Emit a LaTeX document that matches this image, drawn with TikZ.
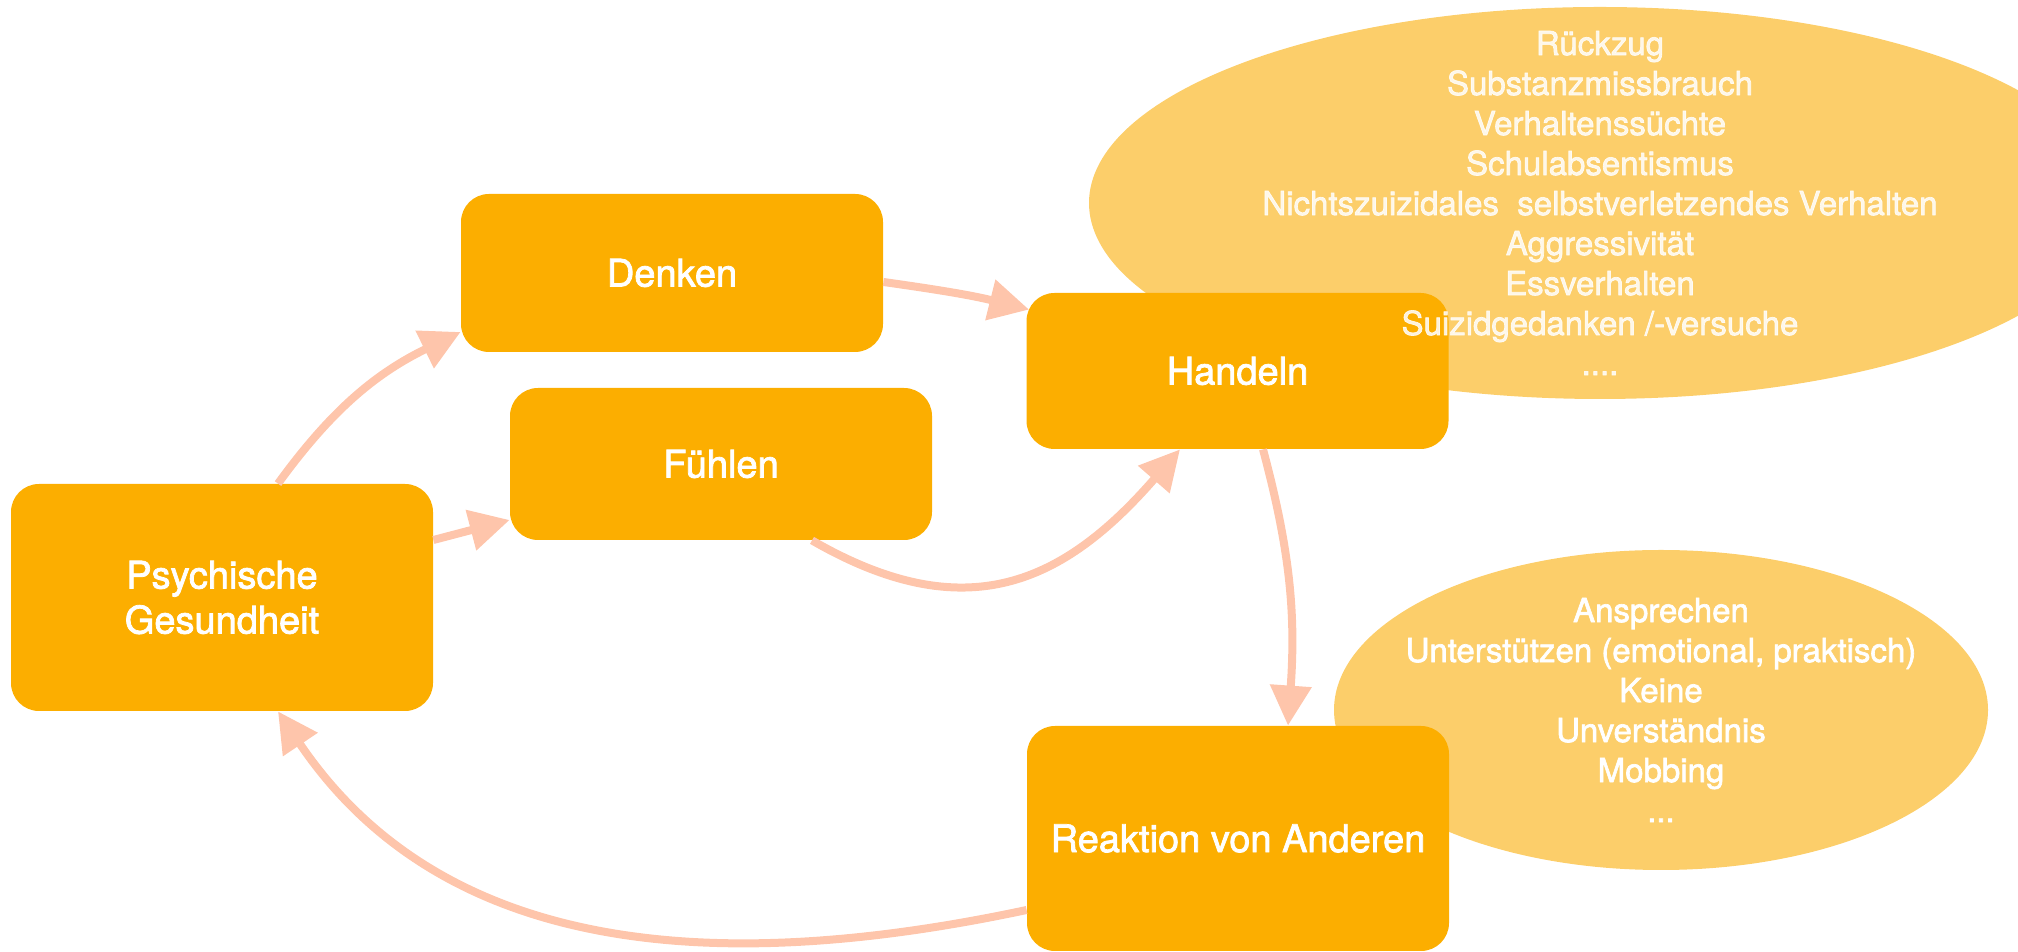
\documentclass[tikz,border=0pt]{standalone}
\usepackage{fontspec}
\setmainfont{TeX Gyre Heros}[FakeBold=2]
\usetikzlibrary{arrows.meta, shapes.geometric}

\definecolor{boxorange}{RGB}{252,174,0}
\definecolor{bubbleyellow}{RGB}{252,206,106}
\definecolor{arrowpeach}{RGB}{254,197,171}

\begin{document}
\begin{tikzpicture}[
    x=0.5pt, y=0.5pt,
    stage/.style={rectangle, rounded corners=14pt, fill=boxorange, text=white, minimum width=211pt, align=center, inner sep=0pt, font=\fontsize{19}{22.5}\selectfont},
    bubble/.style={ellipse, fill=bubbleyellow, inner sep=0pt},
    bubbletext/.style={text=white, align=center, font=\fontsize{16.5}{20}\selectfont},
    flow/.style={-{Triangle[length=20pt, width=20pt]}, line width=4pt, arrowpeach}
]
    \useasboundingbox (0,0) rectangle (2018,952);
    \clip (0,0) rectangle (2018,952);

    % Bubbles behind the boxes
    \node[bubble, minimum width=511pt, minimum height=196pt] (actions) at (1600,749) {};
    \node[bubble, minimum width=327pt, minimum height=160pt] (reactions) at (1661,242) {};

    % Boxes
    \node[stage, minimum height=113.5pt] (psych) at (222,354.5) {Psychische\\Gesundheit};
    \node[stage, minimum height=79pt] (denken) at (672,679) {Denken};
    \node[stage, minimum height=76pt] (fuehlen) at (721,488) {Fühlen};
    \node[stage, minimum height=78pt] (handeln) at (1237.5,581) {Handeln};
    \node[stage, minimum height=112.5pt] (reaktion) at (1238,113.5) {Reaktion von Anderen};

    % Bubble texts
    \node[bubbletext, text opacity=0.85] (actionlist) at (actions.center) {Rückzug\\Substanzmissbrauch\\Verhaltenssüchte\\Schulabsentismus\\Nichtszuizidales~ selbstverletzendes Verhalten\\Aggressivität\\Essverhalten\\Suizidgedanken /-versuche\\....};
    \node[bubbletext] (reactionlist) at (reactions.center) {Ansprechen\\Unterstützen (emotional, praktisch)\\Keine\\Unverständnis\\Mobbing\\...};

    % Cycle
    \draw[flow] ([xshift=28pt]psych.north) to[out=54, in=206] ([yshift=-29.5pt]denken.west);
    \draw[flow] ([yshift=28.75pt]psych.east) -- ([yshift=-28pt]fuehlen.west);
    \draw[flow] ([yshift=-4.5pt]denken.east) to[out=-8, in=166] ([shift={(1.5pt,-8.5pt)}]handeln.north west);
    \draw[flow] ([xshift=45.5pt]fuehlen.south) to[out=-30, in=229, looseness=1.2] ([xshift=-28.75pt]handeln.south);
    \draw[flow] ([xshift=12.75pt]handeln.south) to[out=-75, in=86] ([xshift=25pt]reaktion.north);
    \draw[flow] ([yshift=-35.75pt]reaktion.west) to[out=192, in=304] ([xshift=28pt]psych.south);
\end{tikzpicture}
\end{document}
